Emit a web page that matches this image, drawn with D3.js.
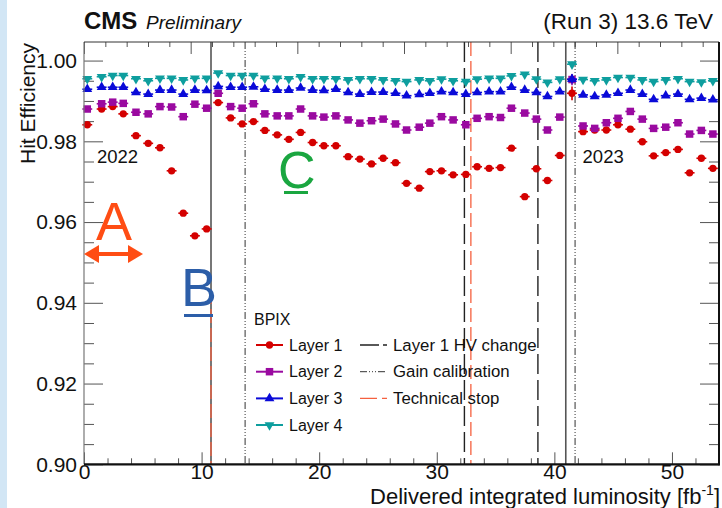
<!DOCTYPE html>
<html><head><meta charset="utf-8">
<script src="https://cdn.jsdelivr.net/npm/d3@7"></script>
<style>
html,body{margin:0;padding:0;background:#fff;}
svg{display:block;font-family:"Liberation Sans",Arial,Helvetica,sans-serif;}
</style></head><body>
<svg id="chart" width="722" height="508"></svg>
<script>
// Delivered luminosity at the centre of each bin [fb^-1]
const lumi = [0.28,1.50,2.44,3.34,4.42,5.46,6.46,7.45,8.44,9.43,10.43,11.41,12.47,13.45,14.41,15.38,16.43,17.42,18.42,19.44,20.40,21.42,22.46,23.46,24.45,25.44,26.49,27.43,28.51,29.41,30.40,31.39,32.47,33.43,34.45,35.42,36.35,37.48,38.47,39.41,40.46,41.50,42.44,43.43,44.42,45.41,46.46,47.48,48.44,49.47,50.51,51.50,52.50,53.48];
const lumiHalfWidth = 0.42;

// Hit efficiency per barrel pixel layer
const layer1 = [0.9841,0.9880,0.9886,0.9868,0.9814,0.9795,0.9784,0.9727,0.9622,0.9566,0.9583,0.9896,0.9858,0.9843,0.9849,0.9827,0.9816,0.9805,0.9822,0.9797,0.9789,0.9789,0.9762,0.9756,0.9744,0.9758,0.9747,0.9696,0.9684,0.9725,0.9727,0.9717,0.9718,0.9737,0.9733,0.9735,0.9783,0.9663,0.9732,0.9703,0.9765,0.9919,0.9824,0.9828,0.9828,0.9841,0.9830,0.9799,0.9764,0.9772,0.9780,0.9722,0.9758,0.9733];
const layer2 = [0.9880,0.9893,0.9897,0.9894,0.9872,0.9868,0.9886,0.9885,0.9861,0.9892,0.9882,0.9919,0.9886,0.9882,0.9893,0.9868,0.9863,0.9863,0.9880,0.9863,0.9860,0.9863,0.9853,0.9845,0.9851,0.9855,0.9843,0.9828,0.9835,0.9845,0.9861,0.9853,0.9841,0.9857,0.9861,0.9859,0.9882,0.9870,0.9855,0.9828,0.9860,0.9953,0.9838,0.9832,0.9846,0.9857,0.9874,0.9855,0.9832,0.9835,0.9846,0.9818,0.9827,0.9818];
const layer3 = [0.9929,0.9934,0.9934,0.9934,0.9921,0.9917,0.9927,0.9927,0.9917,0.9927,0.9926,0.9936,0.9934,0.9934,0.9935,0.9929,0.9927,0.9927,0.9932,0.9927,0.9926,0.9929,0.9921,0.9917,0.9922,0.9922,0.9919,0.9913,0.9916,0.9919,0.9923,0.9921,0.9917,0.9921,0.9923,0.9923,0.9934,0.9927,0.9921,0.9911,0.9923,0.9954,0.9915,0.9911,0.9915,0.9919,0.9927,0.9917,0.9904,0.9913,0.9917,0.9904,0.9907,0.9903];
const layer4 = [0.9955,0.9960,0.9963,0.9963,0.9955,0.9950,0.9956,0.9956,0.9952,0.9956,0.9956,0.9969,0.9963,0.9963,0.9963,0.9956,0.9956,0.9955,0.9960,0.9955,0.9955,0.9955,0.9952,0.9955,0.9955,0.9952,0.9950,0.9948,0.9952,0.9950,0.9954,0.9950,0.9948,0.9954,0.9956,0.9956,0.9962,0.9966,0.9954,0.9946,0.9954,0.9991,0.9953,0.9950,0.9952,0.9958,0.9958,0.9952,0.9948,0.9952,0.9955,0.9948,0.9947,0.9950];

// Low-statistics bin with visible vertical uncertainties (one per layer)
const lowStatBin = 41;
const lowStatErr = [0.0017, 0.0014, 0.0011, 0.0006];

const layerNames = ["Layer 1", "Layer 2", "Layer 3", "Layer 4"];

// Detector operations, in delivered luminosity [fb^-1]
const hvChanges = [32.35, 38.6];
const gainCalibrations = [13.7, 41.76];
const technicalStops = [10.8, 32.9];
const technicalStopCeil = [0.9432, 1.0046]; // upper end of the drawn segment for each stop
const periodBoundaries = [10.8, 40.97];

const yTicksMajor = [0.90, 0.92, 0.94, 0.96, 0.98, 1.00];
const xTicksMajor = [0, 10, 20, 30, 40, 50];

const W = 722, H = 508;
const pL = 84, pR = 719, pT = 42, pB = 464.3;

const svg = d3.select("#chart");
svg.append("rect").attr("width", W).attr("height", H).attr("fill", "#fff");
svg.append("rect").attr("width", 7).attr("height", H).attr("fill", "#d2e6f5");

const x = d3.scaleLinear().domain([0, 54]).range([pL, pR]);
const xTop = d3.scaleLinear().domain([0, 59.53]).range([pL, pR]);
const y = d3.scaleLinear().domain([0.90, 1.0046]).range([pB, pT]);

const fmt = d3.format(".2f");

// ---- axes ----
function styleAxis(g) {
  g.select(".domain").remove();
  g.selectAll(".tick line").attr("stroke", "#555").attr("stroke-width", 1);
  g.selectAll("text").attr("fill", "#111").style("font-size", "21px")
    .style("font-family", '"Liberation Sans",Arial,Helvetica,sans-serif');
}
const xMinor = d3.range(0, 55, 2).filter(v => v % 10 !== 0);
svg.append("g").attr("transform", `translate(0,${pB})`)
  .call(d3.axisBottom(x).tickValues(xTicksMajor).tickSizeInner(-12).tickSizeOuter(0).tickPadding(0).tickFormat(d3.format("d")))
  .call(styleAxis);
svg.append("g").attr("transform", `translate(0,${pB})`)
  .call(d3.axisBottom(x).tickValues(xMinor).tickSizeInner(-6).tickSizeOuter(0).tickFormat(""))
  .call(styleAxis);

const topMinor = d3.range(0, 59.6, 2).filter(v => v % 10 !== 0);
svg.append("g").attr("transform", `translate(0,${pT})`)
  .call(d3.axisTop(xTop).tickValues(d3.range(0, 59.6, 10)).tickSizeInner(-12).tickSizeOuter(0).tickFormat(""))
  .call(styleAxis);
svg.append("g").attr("transform", `translate(0,${pT})`)
  .call(d3.axisTop(xTop).tickValues(topMinor).tickSizeInner(-5).tickSizeOuter(0).tickFormat(""))
  .call(styleAxis);

const yMinor = d3.range(0, 21).map(i => 0.90 + i * 0.005).filter(v => Math.round(v * 1000) % 20 !== 0);
svg.append("g").attr("transform", `translate(${pL},0)`)
  .call(d3.axisLeft(y).tickValues(yTicksMajor).tickSizeInner(-19).tickSizeOuter(0).tickPadding(7).tickFormat(fmt))
  .call(styleAxis);
svg.append("g").attr("transform", `translate(${pL},0)`)
  .call(d3.axisLeft(y).tickValues(yMinor).tickSizeInner(-10).tickSizeOuter(0).tickFormat(""))
  .call(styleAxis);
svg.append("g").attr("transform", `translate(${pR},0)`)
  .call(d3.axisRight(y).tickValues(yTicksMajor).tickSizeInner(-19).tickSizeOuter(0).tickFormat(""))
  .call(styleAxis);
svg.append("g").attr("transform", `translate(${pR},0)`)
  .call(d3.axisRight(y).tickValues(yMinor).tickSizeInner(-10).tickSizeOuter(0).tickFormat(""))
  .call(styleAxis);

// ---- vertical marker lines ----
const vl = svg.append("g");
function vline(xv, yTopVal, stroke, width, dash) {
  vl.append("line").attr("x1", x(xv)).attr("x2", x(xv))
    .attr("y1", y(yTopVal)).attr("y2", pB)
    .attr("stroke", stroke).attr("stroke-width", width)
    .attr("stroke-dasharray", dash || null);
}
periodBoundaries.forEach(v => vline(v, 1.0046, "#555", 1.6));
gainCalibrations.forEach(v => vline(v, 1.0046, "#333", 1, "7,2,1,2,1,2,1,2"));
hvChanges.forEach(v => vline(v, 1.0046, "#222", 1.4, "20,6"));
technicalStops.forEach((v, i) => vline(v, technicalStopCeil[i], "#f5603f", 1.3, "14,5"));

// ---- data series ----
const colors = ["#d40000", "#9a0aa0", "#0a0ad8", "#0e9e9e"];
const symbols = [
  d3.symbol().type(d3.symbolCircle).size(42),
  d3.symbol().type(d3.symbolSquare).size(56),
  d3.symbol().type(d3.symbolTriangle).size(42),
  d3.symbol().type(d3.symbolTriangle).size(42)
];
const rotations = [0, 0, 0, 180];
const layers = [layer1, layer2, layer3, layer4];

layers.forEach((vals, li) => {
  const g = svg.append("g");
  const pts = vals.map((v, i) => ({ x: lumi[i], v, e: i === lowStatBin ? lowStatErr[li] : 0 }));
  g.selectAll("line.xerr").data(pts).join("line").attr("class", "xerr")
    .attr("x1", d => x(d.x - lumiHalfWidth)).attr("x2", d => x(d.x + lumiHalfWidth))
    .attr("y1", d => y(d.v)).attr("y2", d => y(d.v))
    .attr("stroke", colors[li]).attr("stroke-width", 1.6);
  g.selectAll("line.yerr").data(pts.filter(d => d.e > 0)).join("line").attr("class", "yerr")
    .attr("x1", d => x(d.x)).attr("x2", d => x(d.x))
    .attr("y1", d => y(d.v - d.e)).attr("y2", d => y(d.v + d.e))
    .attr("stroke", colors[li]).attr("stroke-width", 1.6);
  g.selectAll("path").data(pts).join("path")
    .attr("d", symbols[li])
    .attr("transform", d => `translate(${x(d.x)},${y(d.v)}) rotate(${rotations[li]})`)
    .attr("fill", colors[li]);
});

// ---- frame ----
svg.append("line").attr("x1", pL).attr("x2", pL).attr("y1", pT).attr("y2", pB).attr("stroke", "#777").attr("stroke-width", 1.2);
svg.append("line").attr("x1", pL).attr("x2", pR).attr("y1", pT).attr("y2", pT).attr("stroke", "#333").attr("stroke-width", 1);
svg.append("line").attr("x1", pR).attr("x2", pR).attr("y1", pT).attr("y2", pB + 1).attr("stroke", "#111").attr("stroke-width", 2);
svg.append("line").attr("x1", pL).attr("x2", pR + 1).attr("y1", pB).attr("y2", pB).attr("stroke", "#111").attr("stroke-width", 2.2);

// ---- period labels ----
svg.append("text").attr("x", x(1.1)).attr("y", 162.5).attr("font-size", 18.5).attr("fill", "#111").text("2022");
svg.append("text").attr("x", x(42.4)).attr("y", 162.5).attr("font-size", 18.5).attr("fill", "#111").text("2023");

// ---- legend ----
const lg = svg.append("g").style("font-size", "16px").attr("fill", "#111");
lg.append("text").attr("x", 254).attr("y", 325).text("BPIX");
const rowY = [345, 371.7, 398.4, 425];
layerNames.forEach((name, i) => {
  lg.append("line").attr("x1", 256).attr("x2", 283).attr("y1", rowY[i]).attr("y2", rowY[i])
    .attr("stroke", colors[i]).attr("stroke-width", 2);
  lg.append("path").attr("d", symbols[i]).attr("transform", `translate(269.5,${rowY[i]}) rotate(${rotations[i]})`).attr("fill", colors[i]);
  lg.append("text").attr("x", 289).attr("y", rowY[i] + 5.7).text(name);
});
const lineLegend = [
  { label: "Layer 1 HV change", stroke: "#222", width: 1.4, dash: "19,4,4,20" },
  { label: "Gain calibration", stroke: "#333", width: 1, dash: "7,2,1,2,1,2,1,2" },
  { label: "Technical stop", stroke: "#f5603f", width: 1.4, dash: "17,5,6,20" }
];
lineLegend.forEach((d, i) => {
  lg.append("line").attr("x1", 360).attr("x2", 387).attr("y1", rowY[i]).attr("y2", rowY[i])
    .attr("stroke", d.stroke).attr("stroke-width", d.width).attr("stroke-dasharray", d.dash);
  lg.append("text").attr("x", 393).attr("y", rowY[i] + 5.7).style("font-size", "16.8px").text(d.label);
});

// ---- titles ----
svg.append("text").attr("x", 84).attr("y", 29).attr("font-size", 24).attr("font-weight", "bold").attr("fill", "#111").text("CMS");
svg.append("text").attr("x", 146).attr("y", 29).attr("font-size", 19).attr("font-style", "italic").attr("fill", "#111").text("Preliminary");
svg.append("text").attr("x", 713).attr("y", 29).attr("font-size", 22.5).attr("text-anchor", "end").attr("fill", "#111").text("(Run 3) 13.6 TeV");

svg.append("text").attr("transform", "translate(35,43) rotate(-90)").attr("text-anchor", "end")
  .attr("font-size", 21).attr("fill", "#111").text("Hit Efficiency");

const xt = svg.append("text").attr("x", 720).attr("y", 504).attr("text-anchor", "end").attr("font-size", 22).attr("fill", "#111");
xt.append("tspan").text("Delivered integrated luminosity [fb");
xt.append("tspan").attr("dy", -9).attr("font-size", 14).text("-1");
xt.append("tspan").attr("dy", 9).text("]");

// ---- annotations ----
const ann = svg.append("g").style("font-family", '"Liberation Sans",Arial,sans-serif');
ann.append("text").attr("x", 96).attr("y", 240).attr("font-size", 54).attr("fill", "#ff4d14").text("A");
ann.append("line").attr("x1", 96).attr("x2", 131).attr("y1", 254).attr("y2", 254).attr("stroke", "#ff4d14").attr("stroke-width", 4);
ann.append("path").attr("d", "M84,254 L99,245 L99,263 Z").attr("fill", "#ff4d14");
ann.append("path").attr("d", "M143,254 L128,245 L128,263 Z").attr("fill", "#ff4d14");

ann.append("text").attr("x", 181).attr("y", 306).attr("font-size", 54).attr("fill", "#2c5ea8").text("B");
ann.append("rect").attr("x", 184).attr("y", 314).attr("width", 29).attr("height", 3).attr("fill", "#2c5ea8");

ann.append("text").attr("x", 278).attr("y", 188).attr("font-size", 52).attr("fill", "#1aa640").text("C");
ann.append("rect").attr("x", 284).attr("y", 191).attr("width", 24).attr("height", 3).attr("fill", "#1aa640");
</script>
</body></html>
